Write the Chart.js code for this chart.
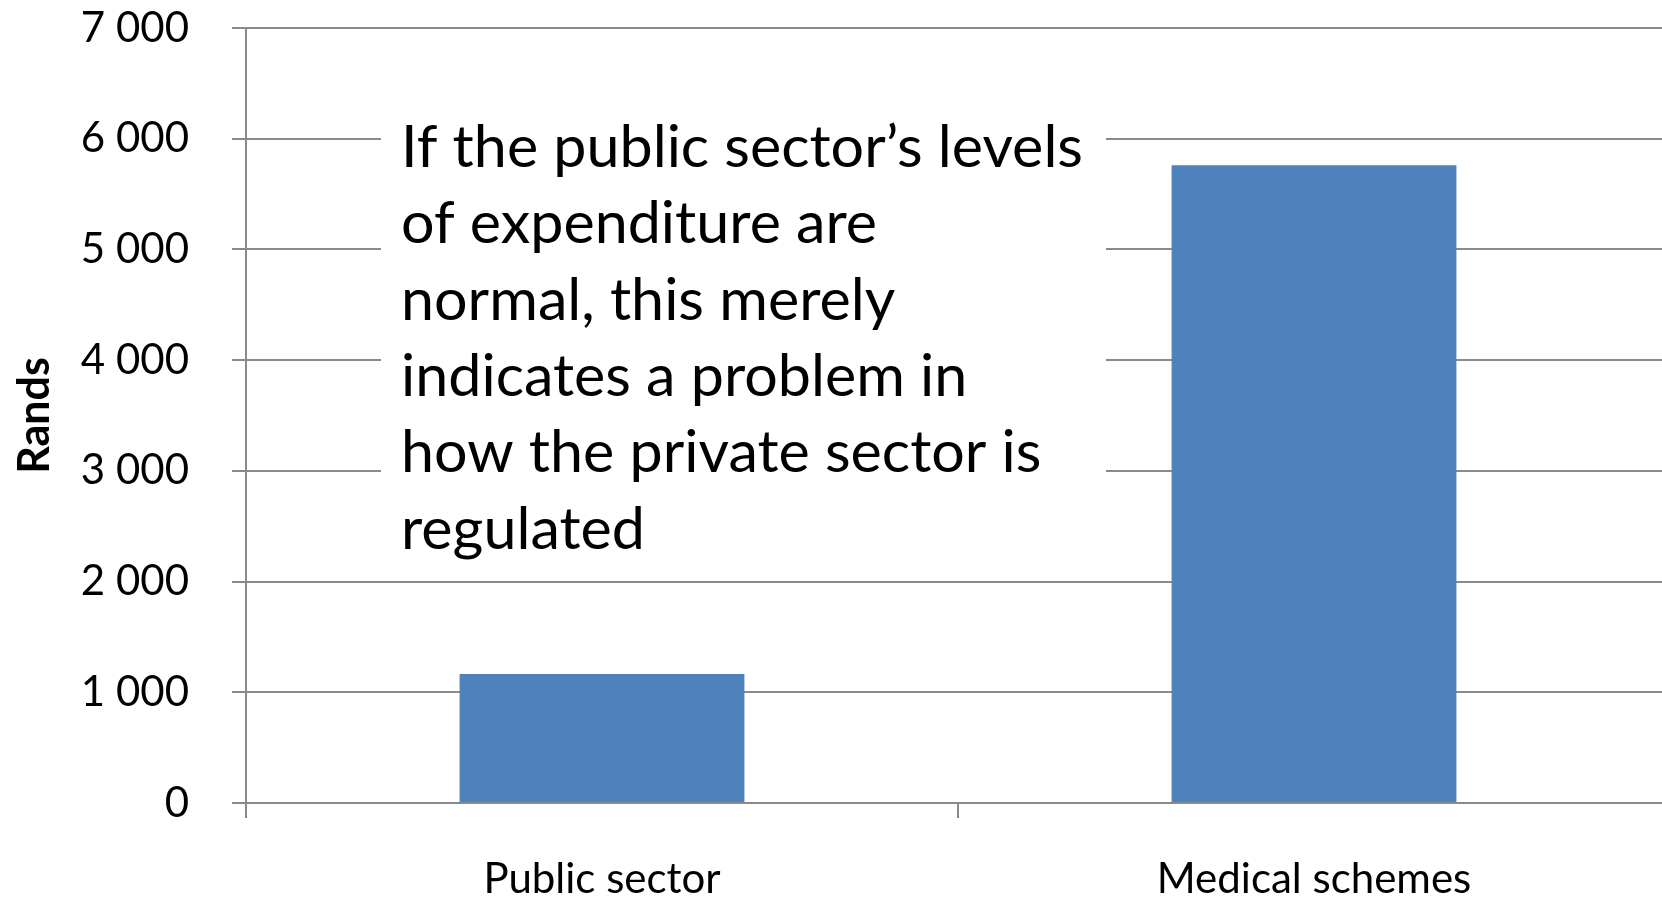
<!DOCTYPE html>
<html>
<head>
<meta charset="utf-8">
<script src="https://cdn.jsdelivr.net/npm/chart.js@4.4.1/dist/chart.umd.min.js"></script>
<style>
  html, body { margin: 0; padding: 0; background: #fff; overflow: hidden; }
  #wrap { width: 1670px; height: 899px; position: relative; }
</style>
</head>
<body>
<div id="wrap"><canvas id="spendChart"></canvas></div>
<script>
// Expenditure per person, in rands
const categories = ["Public sector", "Medical schemes"];
const spending = [1165, 5760];
const yTicks = [0, 1000, 2000, 3000, 4000, 5000, 6000, 7000];

// Text of the callout box
const noteLines = [
  "If the public sector\u2019s levels",
  "of expenditure are",
  "normal, this merely",
  "indicates a problem in",
  "how the private sector is",
  "regulated"
];

const gridColor = "#8a8a8a";

// format 7000 as "7 000"
function spaced(v) {
  return String(v).replace(/\B(?=(\d{3})+(?!\d))/g, " ");
}

// White callout box sitting over the gridlines
const calloutBox = {
  id: "calloutBox",
  beforeDatasetsDraw(chart) {
    const ctx = chart.ctx;
    const area = chart.chartArea;
    const left = area.left + 135;
    const right = area.left + 860;
    const top = 100;
    const bottom = chart.scales.y.getPixelForValue(2000) - 1.5;

    ctx.save();
    ctx.fillStyle = "#fff";
    ctx.fillRect(left, top, right - left, bottom - top);

    ctx.font = "58px Lato";
    ctx.fillStyle = "#000";
    ctx.textBaseline = "alphabetic";
    const sx = 682 / ctx.measureText(noteLines[0]).width;
    ctx.translate(left + 20, 0);
    ctx.scale(sx, 1);
    noteLines.forEach((line, i) => {
      ctx.fillText(line, 0, 167 + i * 76.3);
    });
    ctx.restore();
  }
};

document.fonts.load("42px Lato").then(() => document.fonts.load("bold 43px Lato")).then(() => {
  Chart.defaults.font.family = "Lato";
  Chart.defaults.color = "#000";

  new Chart(document.getElementById("spendChart"), {
    type: "bar",
    data: {
      labels: categories,
      datasets: [{
        data: spending,
        backgroundColor: "#4f81bd",
        borderWidth: 0,
        barPercentage: 0.4,
        categoryPercentage: 1.0
      }]
    },
    options: {
      responsive: true,
      maintainAspectRatio: false,
      animation: false,
      layout: { padding: { top: 28, right: 0, bottom: 0, left: 0 } },
      plugins: {
        legend: { display: false },
        tooltip: { enabled: false }
      },
      scales: {
        x: {
          offset: true,
          grid: {
            offset: true,
            drawOnChartArea: false,
            drawTicks: true,
            tickLength: 15,
            color: gridColor,
            lineWidth: 2
          },
          border: { display: true, color: gridColor, width: 2 },
          ticks: { font: { size: 42 }, padding: 36, maxRotation: 0 },
          afterFit(scale) { scale.height = 96; }
        },
        y: {
          min: 0,
          max: 7000,
          afterBuildTicks(scale) {
            scale.ticks = yTicks.map(v => ({ value: v }));
          },
          grid: {
            color: gridColor,
            lineWidth: 2,
            tickLength: 14
          },
          border: { display: true, color: gridColor, width: 2 },
          ticks: {
            font: { size: 42 },
            padding: 43,
            callback: v => spaced(v)
          },
          title: {
            display: true,
            text: "Rands",
            font: { size: 43, weight: "bold" },
            padding: { top: 9, bottom: 0 }
          },
          afterFit(scale) {
            scale.width = 246;
            // top label may hang above the plot; layout padding handles it
            scale.paddingTop = 0;
            scale.paddingBottom = 0;
          }
        }
      }
    },
    plugins: [calloutBox]
  });
});
</script>
</body>
</html>
